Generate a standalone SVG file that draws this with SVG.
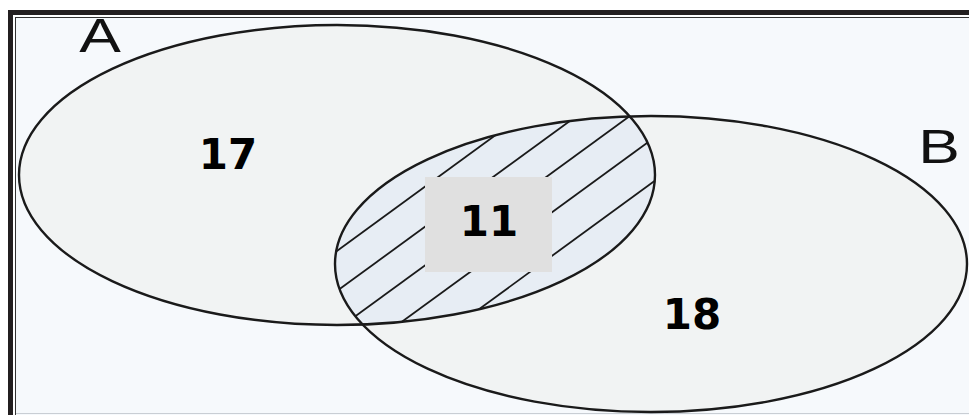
<svg xmlns="http://www.w3.org/2000/svg" width="969" height="415" viewBox="0 0 969 415">
  <style>
    .set { stroke: #1a1a1a; stroke-width: 2.4; }
    .hatch { stroke: #1a1a1a; stroke-width: 1.8; }
    .num { font-family: "DejaVu Sans", Verdana, sans-serif; font-weight: bold; font-size: 42px; fill: #000; text-anchor: middle; }
    .lbl { font-family: "Liberation Sans", Arial, sans-serif; font-size: 48px; fill: #111; text-anchor: middle; }
  </style>
  <defs>
    <clipPath id="clipA">
      <ellipse cx="337" cy="175" rx="318" ry="150"/>
    </clipPath>
    <clipPath id="clipB">
      <ellipse cx="651" cy="264" rx="316" ry="148"/>
    </clipPath>
  </defs>
  <rect x="0" y="0" width="969" height="415" fill="#ffffff"/>
  <g id="frame">
    <rect x="16" y="18" width="960" height="400" fill="#f6f9fc"/>
    <rect x="10.5" y="12.5" width="1000" height="1000" fill="none" stroke="#231f20" stroke-width="5"/>
    <rect x="15.5" y="17.5" width="1000" height="1000" fill="none" stroke="#333" stroke-width="1"/>
    <line x1="16" y1="413.5" x2="969" y2="413.5" stroke="#c9ced4" stroke-width="1"/>
  </g>
  <g id="setA">
    <ellipse cx="337" cy="175" rx="318" ry="150" fill="#f1f3f3"/>
  </g>
  <g id="setB">
    <ellipse cx="651" cy="264" rx="316" ry="148" fill="#f1f3f3"/>
  </g>
  <g id="intersection">
    <g clip-path="url(#clipA)">
      <g clip-path="url(#clipB)">
        <rect x="300" y="80" width="400" height="280" fill="#e7edf4"/>
        <line class="hatch" x1="300" y1="278" x2="560" y2="88"/>
        <line class="hatch" x1="300" y1="318" x2="600" y2="99"/>
        <line class="hatch" x1="320" y1="342" x2="660" y2="94"/>
        <line class="hatch" x1="370" y1="345" x2="680" y2="119"/>
        <line class="hatch" x1="430" y1="345" x2="690" y2="155"/>
      </g>
    </g>
  </g>
  <ellipse class="set" cx="337" cy="175" rx="318" ry="150" fill="none"/>
  <ellipse class="set" cx="651" cy="264" rx="316" ry="148" fill="none"/>
  <g id="box11">
    <rect x="425" y="177" width="127" height="95" fill="#e0e0e0"/>
    <text class="num" x="489" y="236">11</text>
  </g>
  <g id="label17">
    <text class="num" x="228" y="169">17</text>
  </g>
  <g id="label18">
    <text class="num" x="692" y="329">18</text>
  </g>
  <g id="labelA">
    <text class="lbl" transform="translate(100,52) scale(1.3,1)" x="0" y="0">A</text>
  </g>
  <g id="labelB">
    <text class="lbl" transform="translate(939,163) scale(1.3,1)" x="0" y="0">B</text>
  </g>
</svg>
